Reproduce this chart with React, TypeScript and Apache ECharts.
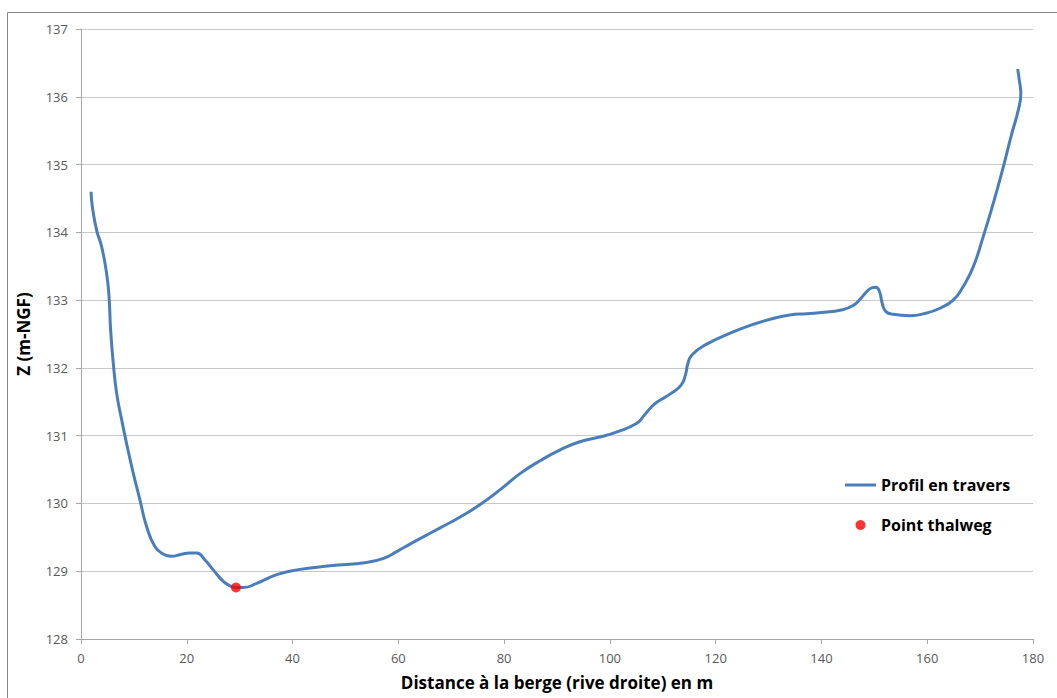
import React, { useEffect, useRef } from "react";
import * as echarts from "echarts";

const profileX = [
  1.9, 2.14, 2.96, 3.9, 4.85, 5.3, 5.6, 6.1, 6.75, 7.7, 8.6, 9.9, 11.15, 12.4, 14.0, 15.6, 17.1,
  19.0, 20.6, 21.9, 23.4, 25.0, 26.9, 28.3, 29.3, 30.7, 33.2, 37.0, 40.8, 47.1, 54.0, 57.2, 59.7,
  62.2, 64.1, 67.9, 71.7, 75.4, 79.2, 83.0, 86.8, 90.6, 94.3, 98.1, 101.5, 105.0, 106.5, 107.8,
  109.0, 111.5, 113.5, 114.3, 114.7, 115.5, 118.3, 123.3, 127.0, 130.9, 134.0, 137.2, 140.5,
  143.5, 146.0, 147.5, 148.5, 149.5, 150.3, 151.0, 151.5, 152.2, 153.6, 156.7, 159.9, 162.4,
  164.9, 166.8, 168.7, 170.6, 172.5, 174.4, 176.0, 177.2, 177.7, 177.4, 177.1,
];
const profileZ = [
  134.6, 134.38, 134.03, 133.79, 133.39, 133.05, 132.56, 132.07, 131.62, 131.23, 130.89, 130.44,
  130.05, 129.66, 129.36, 129.25, 129.22, 129.25, 129.27, 129.27, 129.17, 129.02, 128.85, 128.78,
  128.76, 128.76, 128.82, 128.95, 129.02, 129.08, 129.13, 129.19, 129.29, 129.4, 129.48, 129.64,
  129.8, 129.98, 130.2, 130.44, 130.63, 130.79, 130.91, 130.98, 131.06, 131.18, 131.3, 131.42,
  131.5, 131.62, 131.75, 131.9, 132.05, 132.19, 132.35, 132.53, 132.64, 132.73, 132.78, 132.8,
  132.82, 132.85, 132.92, 133.03, 133.12, 133.18, 133.19, 133.12, 132.95, 132.83, 132.79, 132.77,
  132.81, 132.88, 133.0, 133.2, 133.49, 133.94, 134.43, 134.97, 135.46, 135.8, 136.05, 136.25,
  136.41,
];
const thalwegX = [29.3];
const thalwegZ = [128.76];

const seriesNames = ["Profil en travers", "Point thalweg"];
const xAxisTitle = "Distance à la berge (rive droite) en m";
const yAxisTitle = "Z (m-NGF)";

export default function App() {
  const ref = useRef<HTMLDivElement>(null);
  useEffect(() => {
    if (!ref.current) return;
    const chart = echarts.init(ref.current, null, { renderer: "svg" });
    const labelFont = "'Open Sans', 'Liberation Sans', sans-serif";
    chart.setOption({
      animation: false,
      backgroundColor: "#ffffff",
      graphic: [
        {
          type: "rect",
          shape: { x: 7.5, y: 12.5, width: 1100, height: 800 },
          style: { fill: "none", stroke: "#868686", lineWidth: 1 },
          silent: true,
        },
      ],
      grid: { left: 81, top: 29, right: 24, bottom: 59, containLabel: false },
      legend: {
        orient: "vertical",
        left: 845,
        top: 477,
        padding: 0,
        itemWidth: 31,
        itemHeight: 10,
        itemGap: 24,
        itemTextGap: 2,
        textStyle: { fontFamily: labelFont, fontWeight: "bold", fontSize: 16, color: "#000000" },
        data: [
          {
            name: seriesNames[0],
            icon: "path://M0,0H31V3H0Z",
            itemStyle: { color: "#4a7ebb" },
          },
          { name: seriesNames[1], icon: "circle" },
        ],
      },
      xAxis: {
        type: "value",
        min: 0,
        max: 180,
        interval: 20,
        name: xAxisTitle,
        nameLocation: "middle",
        nameGap: 35,
        nameTextStyle: { fontFamily: labelFont, fontWeight: "bold", fontSize: 17, color: "#000000" },
        axisLine: { show: true, lineStyle: { color: "#a6a6a6", width: 1 } },
        axisTick: { show: true, length: 5, inside: false, lineStyle: { color: "#a6a6a6" } },
        axisLabel: { margin: 12, fontFamily: labelFont, fontSize: 13, color: "#595959" },
        splitLine: { show: false },
      },
      yAxis: {
        type: "value",
        min: 128,
        max: 137,
        interval: 1,
        name: yAxisTitle,
        nameLocation: "middle",
        nameGap: 49,
        nameRotate: 90,
        nameTextStyle: { fontFamily: labelFont, fontWeight: "bold", fontSize: 17, color: "#000000" },
        axisLine: { show: true, lineStyle: { color: "#a6a6a6", width: 1 } },
        axisTick: { show: true, length: 5, inside: false, lineStyle: { color: "#a6a6a6" } },
        axisLabel: { margin: 13, fontFamily: labelFont, fontSize: 13, color: "#595959" },
        splitLine: { show: true, lineStyle: { color: "#c8c8c8", width: 1 } },
      },
      series: [
        {
          name: seriesNames[0],
          type: "line",
          data: profileX.map((x, i) => [x, profileZ[i]]),
          smooth: 0.5,
          symbol: "none",
          lineStyle: { color: "#4a7ebb", width: 3 },
          itemStyle: { color: "#4a7ebb" },
          z: 2,
        },
        {
          name: seriesNames[1],
          type: "scatter",
          data: thalwegX.map((x, i) => [x, thalwegZ[i]]),
          symbol: "circle",
          symbolSize: 10,
          itemStyle: { color: "#ff0000" },
          z: 3,
        },
      ],
    });
    return () => chart.dispose();
  }, []);
  return (
    <div
      ref={ref}
      style={{ position: "absolute", left: 0, top: 0, width: 1057, height: 698 }}
    />
  );
}
